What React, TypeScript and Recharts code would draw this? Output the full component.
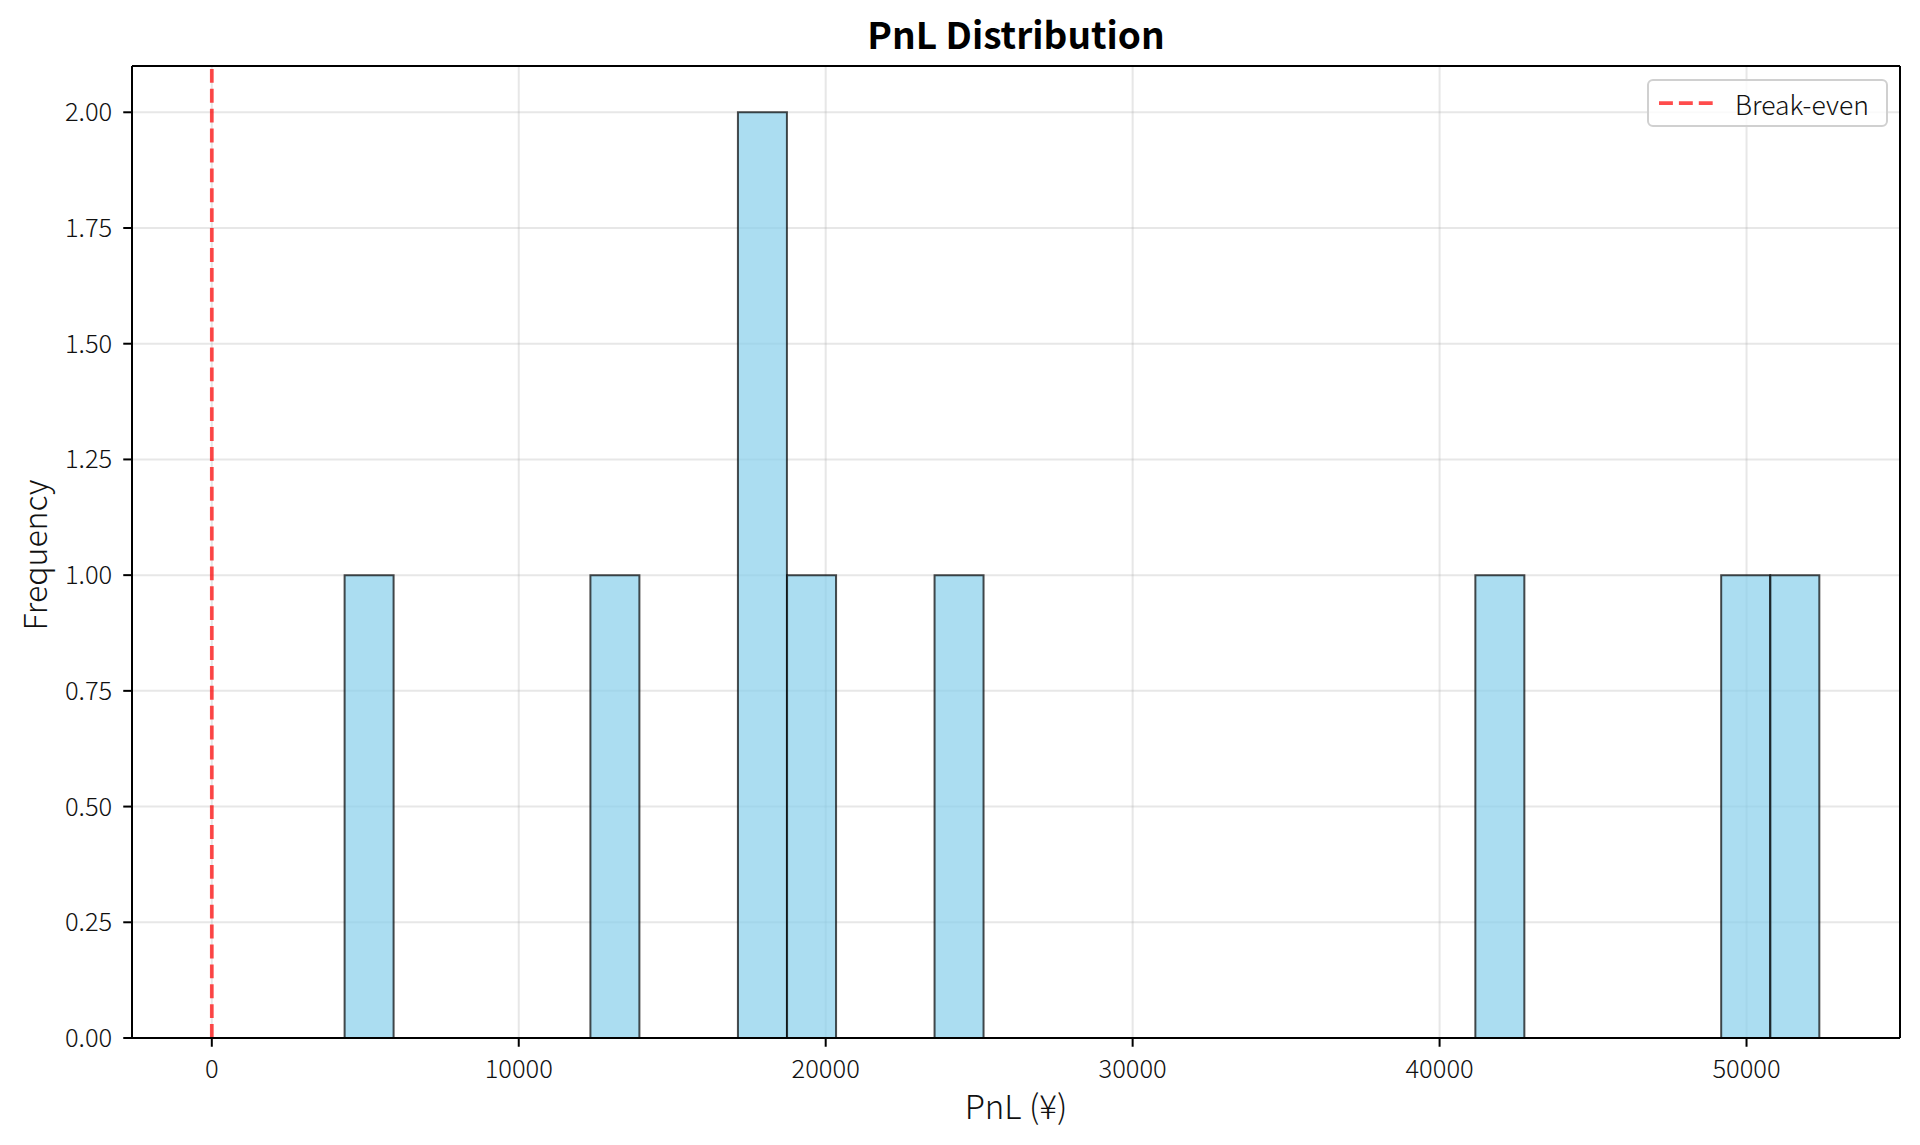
import React from "react";
import {
  ComposedChart,
  Bar,
  XAxis,
  YAxis,
  CartesianGrid,
  ReferenceLine,
  Legend,
} from "recharts";

// histogram: centers of the non-empty bins (30 bins, width ~1600) and their counts
const binCenters = [5127, 13135, 17941, 19542, 24347, 41966, 49975, 51576];
const counts = [1, 1, 2, 1, 1, 1, 1, 1];

const xTicks = [0, 10000, 20000, 30000, 40000, 50000];
const yTicks = [0, 0.25, 0.5, 0.75, 1, 1.25, 1.5, 1.75, 2];
const xDomain = [-2600, 55000];
const yDomain = [0, 2.1];
const breakEven = 0;

const data = binCenters.map((x, i) => ({ x, count: counts[i] }));

const FONT = "'Noto Sans CJK JP', 'Noto Sans', sans-serif";
const RED = "#ff0000";

const BreakEvenLegend = () => (
  <div
    style={{
      width: 241,
      height: 48,
      boxSizing: "border-box",
      border: "2px solid #d0d0d0",
      borderRadius: 6,
      background: "rgba(255,255,255,0.8)",
      display: "flex",
      alignItems: "center",
      fontFamily: FONT,
      fontSize: 26.5,
      fontWeight: 300,
      color: "#111",
    }}
  >
    <svg width={60} height={10} style={{ marginLeft: 9 }}>
      <line
        x1={1}
        y1={5}
        x2={56}
        y2={5}
        stroke={RED}
        strokeOpacity={0.7}
        strokeWidth={3.75}
        strokeDasharray="13.9 6"
      />
    </svg>
    <span style={{ marginLeft: 17 }}>Break-even</span>
  </div>
);

const tickStyle = { fill: "#111", fontSize: 25.5, fontFamily: FONT, fontWeight: 300 };

export default function App() {
  return (
    <div
      style={{
        position: "absolute",
        top: 0,
        left: 0,
        width: 1920,
        height: 1145,
        background: "#fff",
      }}
    >
      <ComposedChart
        width={1920}
        height={1145}
        data={data}
        margin={{ top: 66, right: 20, bottom: 0, left: 0 }}
        barCategoryGap={0}
        barGap={0}
      >
        <CartesianGrid stroke="#b0b0b0" strokeOpacity={0.3} strokeWidth={2} />
        <XAxis
          dataKey="x"
          type="number"
          domain={xDomain}
          ticks={xTicks}
          allowDataOverflow
          height={107}
          tickSize={8.75}
          tickMargin={13}
          axisLine={{ stroke: "#000", strokeWidth: 2 }}
          tickLine={{ stroke: "#000", strokeWidth: 2 }}
          tick={tickStyle}
        />
        <YAxis
          type="number"
          domain={yDomain}
          ticks={yTicks}
          allowDataOverflow
          width={132}
          tickSize={8.75}
          tickMargin={11}
          tickFormatter={(v: number) => v.toFixed(2)}
          axisLine={{ stroke: "#000", strokeWidth: 2 }}
          tickLine={{ stroke: "#000", strokeWidth: 2 }}
          tick={tickStyle}
        />
        <Bar
          dataKey="count"
          fill="#87ceeb"
          fillOpacity={0.7}
          stroke="#000"
          strokeOpacity={0.7}
          strokeWidth={2}
          isAnimationActive={false}
        />
        <ReferenceLine
          x={breakEven}
          stroke={RED}
          strokeOpacity={0.7}
          strokeWidth={3.75}
          strokeDasharray="13.9 6"
        />
        {/* top and right spines */}
        <ReferenceLine y={yDomain[1]} stroke="#000" strokeWidth={2} />
        <ReferenceLine x={xDomain[1]} stroke="#000" strokeWidth={2} />
        <Legend
          layout="vertical"
          align="center"
          verticalAlign="middle"
          content={<BreakEvenLegend />}
          wrapperStyle={{ top: 79, left: 1647, width: 241 }}
        />
      </ComposedChart>
      <svg
        width={1920}
        height={1145}
        style={{ position: "absolute", top: 0, left: 0, pointerEvents: "none" }}
      >
        <text
          x={1016}
          y={49}
          textAnchor="middle"
          fontFamily={FONT}
          fontSize={37}
          fontWeight="bold"
          fill="#000"
        >
          PnL Distribution
        </text>
        <text
          x={1016}
          y={1119}
          textAnchor="middle"
          fontFamily={FONT}
          fontSize={33}
          fontWeight={300}
          fill="#111"
        >
          PnL (¥)
        </text>
        <text
          transform="translate(46.5, 555) rotate(-90)"
          textAnchor="middle"
          fontFamily={FONT}
          fontSize={32}
          fontWeight={300}
          fill="#111"
        >
          Frequency
        </text>
      </svg>
    </div>
  );
}
